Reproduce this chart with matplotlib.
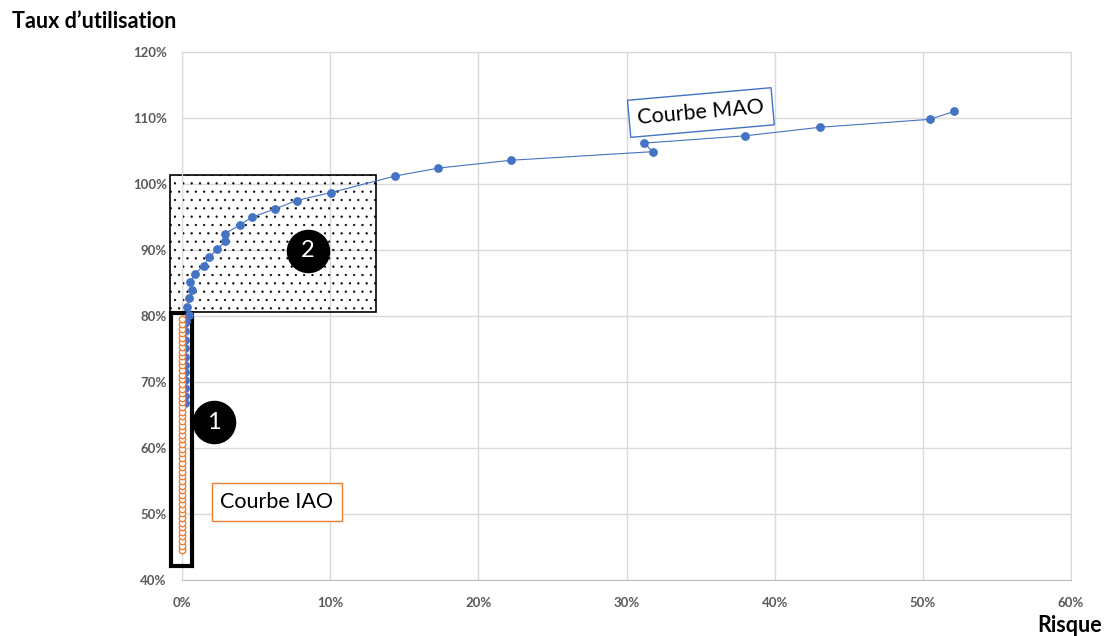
import matplotlib.pyplot as plt
from matplotlib.patches import Rectangle
from matplotlib.ticker import FuncFormatter

plt.rcParams['font.family'] = ['Lato', 'DejaVu Sans']
plt.rcParams['hatch.linewidth'] = 0.4

# Courbe MAO (risque %, taux d'utilisation %)
mao_x = [0.22, 0.21, 0.20, 0.20, 0.21, 0.20, 0.19, 0.19, 0.20, 0.20, 0.21, 0.27,
         0.49, 0.34, 0.49, 0.70, 0.56, 0.86, 1.46, 1.82, 2.38, 2.92, 2.92, 3.91,
         4.70, 6.25, 7.74, 10.05, 14.37, 17.27, 22.2, 31.76, 31.2, 37.99, 43.07,
         50.47, 52.11]
mao_y = [66.8, 67.9, 69.1, 70.3, 71.5, 72.6, 73.8, 75.1, 76.4, 77.7, 79.0, 79.3,
         80.2, 81.4, 82.7, 83.9, 85.1, 86.4, 87.6, 88.9, 90.1, 91.3, 92.5, 93.8,
         94.95, 96.2, 97.5, 98.7, 101.2, 102.4, 103.6, 104.9, 106.2, 107.3, 108.6,
         109.8, 111.0]

# Courbe IAO
iao_y = [44.5, 45.2, 45.9, 46.6, 47.3, 48.0, 48.7, 49.4, 50.1, 50.8, 51.5, 52.2,
         52.9, 53.6, 54.3, 55.0, 55.7, 56.4, 57.1, 57.8, 58.5, 59.2, 59.9, 60.6,
         61.3, 62.0, 62.7, 63.4, 64.1, 64.8, 65.5, 66.2, 66.9, 67.6, 68.3, 69.0,
         69.7, 70.4, 71.1, 71.8, 72.5, 73.2, 73.9, 74.6, 75.3, 76.0, 76.7, 77.4,
         78.1, 78.8, 79.5]
iao_x = [0.0] * len(iao_y)

x_ticks = [0, 10, 20, 30, 40, 50, 60]
y_ticks = [40, 50, 60, 70, 80, 90, 100, 110, 120]

blue = '#4472C4'
orange = '#ED7D31'
grid = '#D9D9D9'
tick_col = '#595959'

fig = plt.figure(figsize=(11.07, 6.36), dpi=100)
ax = fig.add_axes([0.1644, 0.0881, 0.8031, 0.8301])
ax.set_xlim(0, 60)
ax.set_ylim(40, 120)
ax.set_xticks(x_ticks)
ax.set_yticks(y_ticks)
pct = FuncFormatter(lambda v, p: '%d%%' % v)
ax.xaxis.set_major_formatter(pct)
ax.yaxis.set_major_formatter(pct)
ax.grid(True, color=grid, lw=1)
ax.set_axisbelow(True)
for s in ax.spines.values():
    s.set_color(grid)
ax.spines['bottom'].set_color('#BFBFBF')
ax.tick_params(length=0, labelsize=9.5, labelcolor=tick_col)
ax.tick_params(axis='y', pad=11)
ax.tick_params(axis='x', pad=12)
for lab in ax.get_xticklabels() + ax.get_yticklabels():
    lab.set_fontweight('bold')

# zone 2 (pointillés) et zone 1 (cadre noir)
ax.add_patch(Rectangle((-0.81, 80.65), 13.91, 20.65, facecolor='none',
                       edgecolor='black', hatch='..', lw=1.2, clip_on=False, zorder=2))
ax.add_patch(Rectangle((-0.76, 42.1), 1.41, 38.3, facecolor='none',
                       edgecolor='black', lw=3, clip_on=False, zorder=3))

ax.plot(mao_x, mao_y, color=blue, lw=0.8, marker='o', ms=5.3,
        mec=blue, mfc=blue, zorder=4, clip_on=False)
ax.plot(iao_x, iao_y, ls='none', marker='o', ms=4.6, mec=orange, mfc='white',
        mew=1, zorder=5, clip_on=False)

# pastilles numérotées
for cx, cy, txt in [(2.18, 63.9, '1'), (8.48, 89.85, '2')]:
    ax.scatter([cx], [cy], s=920, color='black', zorder=6)
    ax.text(cx, cy, txt, color='white', fontsize=17, ha='center', va='center', zorder=7)

ax.text(35.02, 110.83, 'Courbe MAO', fontsize=15.5, ha='center', va='center',
        rotation=5, rotation_mode='anchor', zorder=7,
        bbox=dict(boxstyle='square,pad=0.4', fc='white', ec=blue, lw=1))
ax.text(6.39, 51.8, 'Courbe IAO', fontsize=15.5, ha='center', va='center', zorder=7,
        bbox=dict(boxstyle='square,pad=0.4', fc='white', ec=orange, lw=1))

fig.text(12 / 1107, 1 - 22 / 636, 'Taux d\u2019utilisation', fontsize=15.5,
         fontweight='bold', ha='left', va='center')
fig.text(1102 / 1107, 1 - 626 / 636, 'Risque', fontsize=15.5,
         fontweight='bold', ha='right', va='center')

fig.savefig('out.png', dpi=100)
